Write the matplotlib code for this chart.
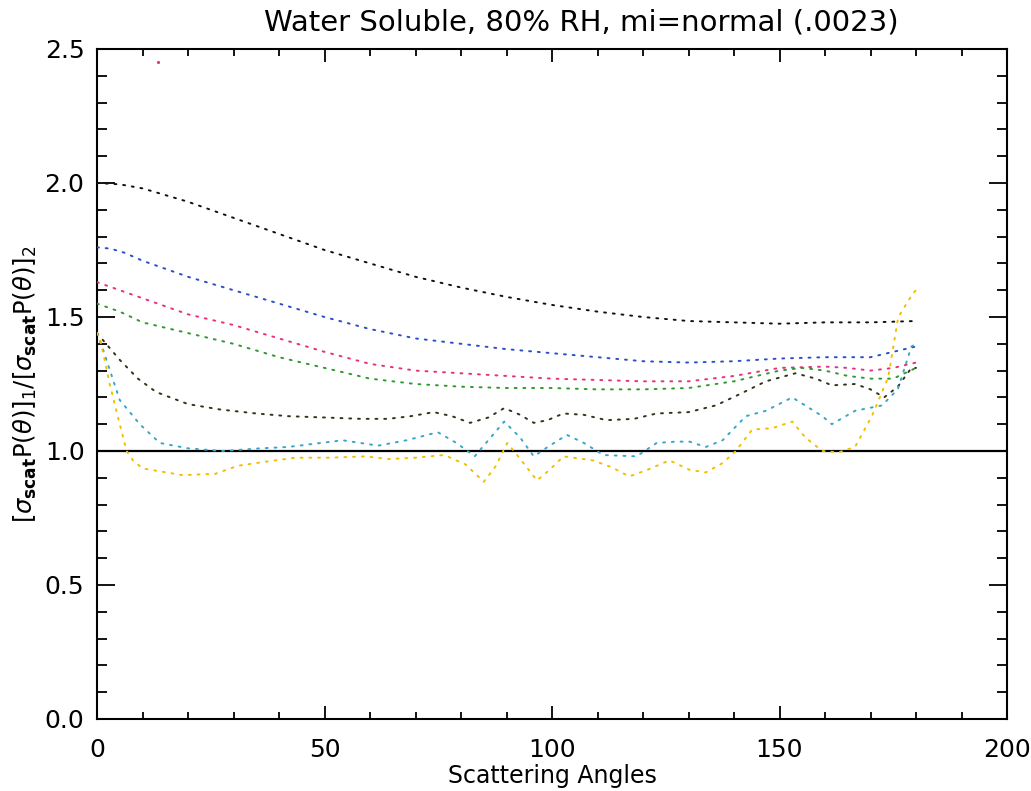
import matplotlib
matplotlib.use("Agg")
import matplotlib.pyplot as plt
from matplotlib.ticker import MultipleLocator

plt.rcParams['font.family'] = ['DejaVu Sans']
plt.rcParams['mathtext.fontset'] = 'dejavusans'

# Ratio curves: angle (deg) and value for each size/humidity case
black_ang = [0, 5, 10, 20, 30, 40, 50, 60, 70, 80, 90, 100, 110, 120, 130, 140, 150, 160, 170, 180]
black_val = [2.00, 1.995, 1.98, 1.93, 1.87, 1.81, 1.75, 1.70, 1.65, 1.61, 1.575, 1.545, 1.52, 1.50,
             1.485, 1.48, 1.475, 1.48, 1.48, 1.485]

blue_ang = [0, 3, 6, 10, 20, 30, 40, 50, 60, 70, 80, 90, 100, 110, 120, 130, 140, 150, 160, 170, 175, 180]
blue_val = [1.76, 1.755, 1.74, 1.71, 1.65, 1.60, 1.55, 1.50, 1.455, 1.42, 1.40, 1.38, 1.365, 1.35,
            1.335, 1.33, 1.335, 1.345, 1.35, 1.35, 1.37, 1.39]

pink_ang = [0, 5, 10, 20, 30, 40, 50, 60, 70, 80, 90, 100, 110, 120, 130, 140, 150, 160, 165, 170, 175, 180]
pink_val = [1.63, 1.60, 1.57, 1.51, 1.47, 1.42, 1.37, 1.325, 1.30, 1.29, 1.28, 1.27, 1.265, 1.26,
            1.26, 1.28, 1.31, 1.315, 1.31, 1.30, 1.31, 1.33]

green_ang = [0, 5, 10, 20, 30, 40, 50, 60, 70, 80, 90, 100, 110, 120, 130, 140, 150, 155, 160, 165,
             170, 175, 180]
green_val = [1.55, 1.52, 1.48, 1.44, 1.40, 1.35, 1.31, 1.27, 1.25, 1.24, 1.235, 1.235, 1.23, 1.23,
             1.235, 1.26, 1.30, 1.31, 1.30, 1.28, 1.27, 1.27, 1.31]

dark_ang = [0, 2, 5, 9, 13, 20, 27, 35, 42, 50, 58, 64, 69, 74, 78, 82, 86, 89.5, 93, 96, 99, 102.5,
            107, 112, 118, 123, 130, 136, 141, 147, 153.5, 158, 161.5, 166.6, 170, 173, 176, 179, 180]
dark_val = [1.44, 1.40, 1.34, 1.27, 1.22, 1.175, 1.155, 1.14, 1.13, 1.125, 1.12, 1.12, 1.13, 1.145,
            1.13, 1.105, 1.125, 1.16, 1.135, 1.105, 1.115, 1.14, 1.135, 1.115, 1.12, 1.14, 1.145,
            1.17, 1.21, 1.26, 1.29, 1.27, 1.245, 1.25, 1.23, 1.20, 1.24, 1.31, 1.31]

cyan_ang = [0, 1.4, 5, 9.4, 13.8, 20, 27.5, 36, 42, 54, 61.8, 68, 74.9, 79, 83, 86, 89.5, 93, 96,
            99.5, 103.3, 107, 111.3, 118.6, 123, 127.3, 130.2, 133.8, 137.5, 142.6, 147, 152.8,
            159.4, 161.5, 166.6, 172.5, 176, 179, 180]
cyan_val = [1.44, 1.375, 1.19, 1.10, 1.03, 1.01, 1.00, 1.01, 1.015, 1.04, 1.02, 1.04, 1.07, 1.03,
            0.98, 1.04, 1.11, 1.05, 0.98, 1.02, 1.06, 1.03, 0.985, 0.98, 1.03, 1.035, 1.035, 1.015,
            1.04, 1.13, 1.15, 1.20, 1.13, 1.10, 1.15, 1.17, 1.23, 1.39, 1.40]

yellow_ang = [0, 0.65, 2.8, 5, 6.5, 7.9, 10, 18.8, 26, 31, 37, 43.6, 51, 59, 64, 70, 76.3, 81, 85,
              87.5, 90.2, 93.5, 96.7, 99.5, 102.5, 109, 113, 117, 121, 125.8, 130.2, 133.8, 137.5,
              140.4, 144, 148.4, 152.8, 155.7, 159.4, 163, 166.6, 170.3, 173.9, 176.1, 179.4, 180]
yellow_val = [1.44, 1.42, 1.25, 1.10, 1.00, 0.965, 0.935, 0.91, 0.915, 0.945, 0.96, 0.975, 0.975,
              0.98, 0.97, 0.975, 0.985, 0.95, 0.885, 0.94, 1.03, 0.96, 0.89, 0.93, 0.98, 0.965,
              0.94, 0.905, 0.93, 0.965, 0.93, 0.92, 0.955, 1.00, 1.08, 1.085, 1.11, 1.05, 1.00,
              0.995, 1.015, 1.13, 1.275, 1.50, 1.59, 1.60]

stray_ang = [13.3]
stray_val = [2.45]

reference_level = 1.0

series = [
    (black_ang, black_val, '#111111'),
    (blue_ang, blue_val, '#2a4fc8'),
    (pink_ang, pink_val, '#e8307e'),
    (green_ang, green_val, '#2f9a2f'),
    (dark_ang, dark_val, '#2e3618'),
    (cyan_ang, cyan_val, '#38a6c8'),
    (yellow_ang, yellow_val, '#f0c000'),
]

W, H = 1031, 791
fig = plt.figure(figsize=(W / 100, H / 100), dpi=100)
left, right, top, bottom = 97, 1007, 49, 719
ax = fig.add_axes([left / W, 1 - bottom / H, (right - left) / W, (bottom - top) / H])

ax.axhline(reference_level, color='black', lw=1.6, zorder=3)

for ang, val, col in series:
    ax.plot(ang, val, color=col, lw=1.4, linestyle=(0, (1, 3.5)),
            dash_capstyle='round', zorder=4)

ax.plot(stray_ang, stray_val, linestyle='none', marker='.', ms=2.5, color='#e8307e')

ax.set_xlim(0, 200)
ax.set_ylim(0.0, 2.5)
ax.xaxis.set_major_locator(MultipleLocator(50))
ax.xaxis.set_minor_locator(MultipleLocator(10))
ax.yaxis.set_major_locator(MultipleLocator(0.5))
ax.yaxis.set_minor_locator(MultipleLocator(0.1))
ax.yaxis.set_major_formatter(plt.FormatStrFormatter('%.1f'))

ax.tick_params(which='both', direction='in', top=True, right=True, width=1.3, labelsize=18)
ax.tick_params(axis='x', which='major', length=9.5, pad=14)
ax.tick_params(axis='x', which='minor', length=5)
ax.tick_params(axis='y', which='major', length=13, pad=9)
ax.tick_params(axis='y', which='minor', length=7)
for s in ax.spines.values():
    s.set_linewidth(1.5)

ax.set_title('Water Soluble, 80% RH, mi=normal (.0023)', fontsize=21, x=0.532, pad=13)
ax.set_xlabel('Scattering Angles', fontsize=17, labelpad=1)
ax.set_ylabel(r'$[\sigma_{\mathbf{scat}}\mathrm{P}(\theta)]_1/[\sigma_{\mathbf{scat}}\mathrm{P}(\theta)]_2$',
              fontsize=17.5, labelpad=4)

fig.savefig('out.png', dpi=100)
